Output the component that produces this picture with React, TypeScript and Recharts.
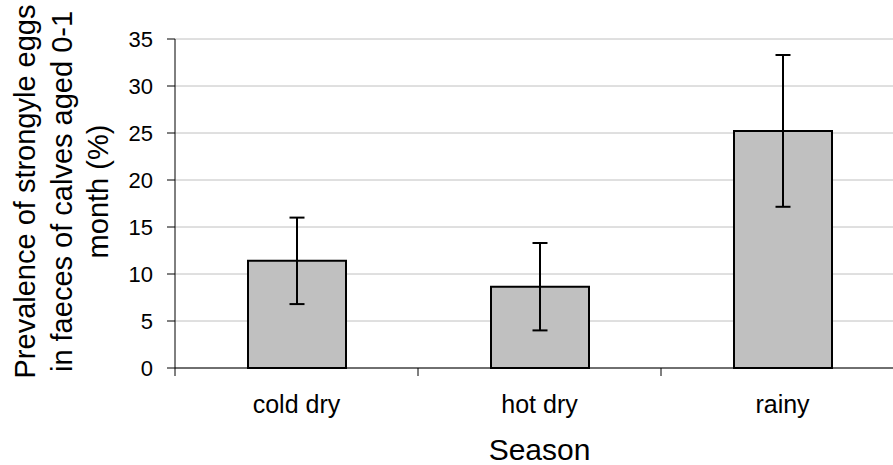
import React from 'react';
import { BarChart, Bar, XAxis, YAxis, CartesianGrid, ErrorBar } from 'recharts';

// Season categories and prevalence (%) with 95% confidence bounds
const seasons = ['cold dry', 'hot dry', 'rainy'];
const prevalence = [11.4, 8.65, 25.2];
const ciLower = [6.8, 4.0, 17.15];
const ciUpper = [16.0, 13.3, 33.3];

const yTicks = [0, 5, 10, 15, 20, 25, 30, 35];
const yTitleLines = ['Prevalence of strongyle eggs', 'in faeces of calves aged 0-1', 'month (%)'];

const data = seasons.map((season, i) => ({
  season,
  prevalence: prevalence[i],
  err: [prevalence[i] - ciLower[i], ciUpper[i] - prevalence[i]],
}));

const FONT = '"Liberation Sans", Arial, sans-serif';
const LABEL_GAP = 27;
const TICK_LEN = 8;

const YTitle = (props: any) => {
  const vb = props.viewBox || {};
  const cy = vb.y + vb.height / 2 - 12;
  const baselines = [35, 72, 108];
  return (
    <g>
      {yTitleLines.map((line, i) => {
        const x = vb.x + baselines[i];
        return (
          <text
            key={line}
            x={x}
            y={cy}
            transform={`rotate(-90, ${x}, ${cy})`}
            textAnchor="middle"
            fontSize={29}
            fontFamily={FONT}
            fill="#000"
          >
            {line}
          </text>
        );
      })}
    </g>
  );
};

// Category label centred in its band, with tick marks on the band edges
const SeasonTick = (props: any) => {
  const { x, y, payload, index, visibleTicksCount } = props;
  const half = payload && typeof payload.offset === 'number' ? payload.offset : 0;
  const axisY = y - LABEL_GAP;
  const isLast = index === (visibleTicksCount ?? 3) - 1;
  return (
    <g>
      <line x1={x - half} x2={x - half} y1={axisY} y2={axisY + TICK_LEN} stroke="#000" strokeWidth={1} />
      {isLast && (
        <line x1={x + half} x2={x + half} y1={axisY} y2={axisY + TICK_LEN} stroke="#000" strokeWidth={1} />
      )}
      <text x={x} y={y} dy="0.71em" textAnchor="middle" fontSize={25} fontFamily={FONT} fill="#000">
        {payload.value}
      </text>
    </g>
  );
};

export default function App() {
  return (
    <div
      style={{
        position: 'absolute',
        left: 0,
        top: 0,
        width: 893,
        height: 465,
        overflow: 'hidden',
        background: '#fff',
        fontFamily: FONT,
      }}
    >
      <BarChart
        width={920}
        height={465}
        data={data}
        margin={{ top: 39, right: 16, left: 0, bottom: 0 }}
      >
        <CartesianGrid vertical={false} stroke="#c0c0c0" />
        <XAxis
          dataKey="season"
          height={97}
          tickLine={false}
          axisLine={{ stroke: '#000' }}
          tickSize={0}
          tickMargin={LABEL_GAP}
          interval={0}
          tick={<SeasonTick />}
          label={{ value: 'Season', position: 'insideBottom', offset: 5, fontSize: 30, fill: '#000', fontFamily: FONT }}
        />
        <YAxis
          width={175}
          domain={[0, 35]}
          ticks={yTicks}
          tickSize={8}
          tickMargin={14}
          axisLine={{ stroke: '#000' }}
          tickLine={{ stroke: '#000' }}
          tick={{ fill: '#000', fontSize: 22, fontFamily: FONT }}
          label={{ content: YTitle }}
        />
        <Bar
          dataKey="prevalence"
          fill="#c0c0c0"
          stroke="#000"
          strokeWidth={2}
          barSize={98}
          isAnimationActive={false}
        >
          <ErrorBar dataKey="err" direction="y" width={7.5} stroke="#000" strokeWidth={2} isAnimationActive={false} />
        </Bar>
      </BarChart>
    </div>
  );
}
